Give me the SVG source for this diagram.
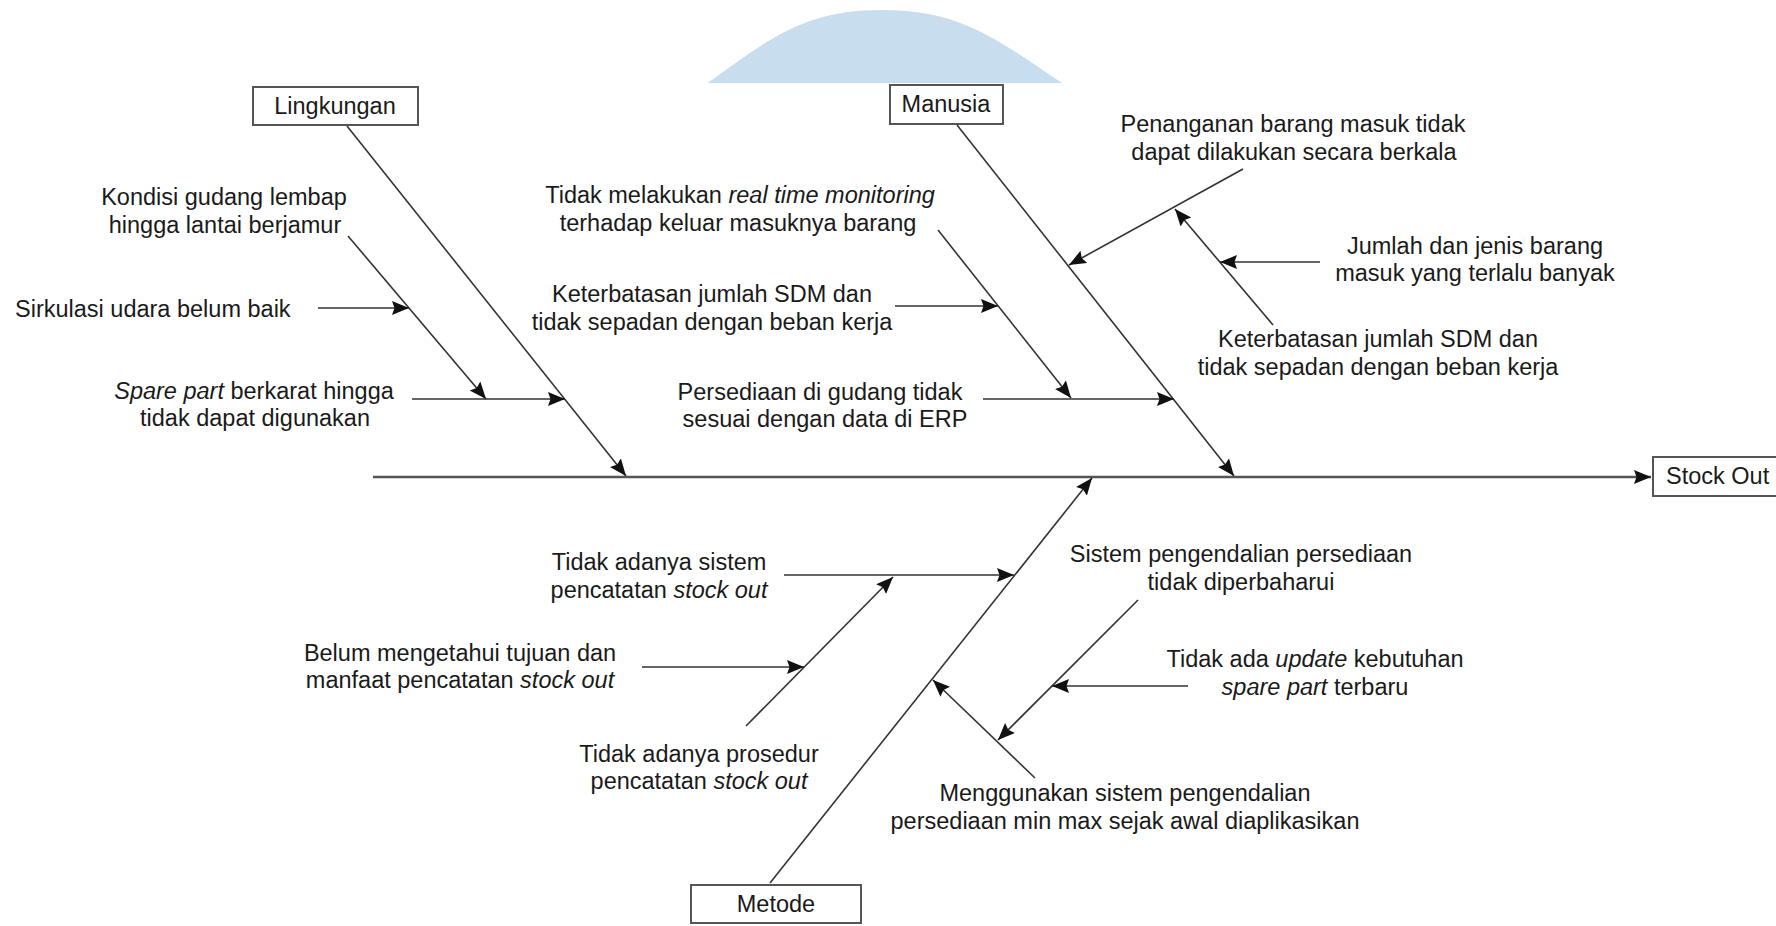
<svg xmlns="http://www.w3.org/2000/svg" width="1776" height="926" viewBox="0 0 1776 926">
<style>
.t{font-family:"Liberation Sans",Arial,sans-serif;font-size:23.5px;fill:#1a1a1a}
.m{text-anchor:middle}
.i{font-style:italic}
.box{fill:#fff;stroke:#555;stroke-width:2}
.c{stroke:#333;stroke-width:1.6;fill:none;marker-end:url(#ah)}
.main{stroke:#555;stroke-width:2.4;fill:none;marker-end:url(#ah)}
</style>
<defs>
<marker id="ah" markerUnits="userSpaceOnUse" markerWidth="18" markerHeight="15" refX="17" refY="7" orient="auto">
<path d="M0,0 L17,7 L0,14 L2.5,7 Z" fill="#111"/>
</marker>
</defs>
<rect width="1776" height="926" fill="#fff"/>
<path d="M708,83 C770,38 805,10 882,10 C960,10 995,38 1062,83 Z" fill="#c8dded"/>

<g id="connectors">
<path class="main" d="M373,477 H1651"/>
<path class="c" d="M347,126 L626,476"/>
<path class="c" d="M348,236 L486,399"/>
<path class="c" d="M318,308 L409,308"/>
<path class="c" d="M412,399 L565,399"/>
<path class="c" d="M957,125 L1234,476"/>
<path class="c" d="M938,230 L1071,398"/>
<path class="c" d="M895,306 L998,306"/>
<path class="c" d="M983,399 L1174,399"/>
<path class="c" d="M1243,169 L1069,265"/>
<path class="c" d="M1320,262 L1220,262"/>
<path class="c" d="M1273,325 L1175,209"/>
<path class="c" d="M770,883 L1092,478"/>
<path class="c" d="M784,575 L1014,575"/>
<path class="c" d="M746,726 L893,577"/>
<path class="c" d="M642,667 L804,667"/>
<path class="c" d="M1138,600 L998,740"/>
<path class="c" d="M1188,686 L1052,686"/>
<path class="c" d="M1035,778 L933,680"/>
</g>

<g id="lingkungan">
<rect class="box" x="253" y="87" width="165" height="38"/>
<text class="t m" x="335" y="114">Lingkungan</text>
</g>
<g id="manusia">
<rect class="box" x="890" y="85" width="113" height="39"/>
<text class="t m" x="946" y="112">Manusia</text>
</g>
<g id="metode">
<rect class="box" x="691" y="885" width="170" height="38"/>
<text class="t m" x="776" y="912">Metode</text>
</g>
<g id="stockout">
<rect class="box" x="1653" y="457" width="130" height="39"/>
<text class="t" x="1666" y="484">Stock Out</text>
</g>

<g id="kondisi">
<text class="t m" x="224" y="205">Kondisi gudang lembap</text>
<text class="t m" x="225" y="233">hingga lantai berjamur</text>
</g>
<g id="sirkulasi">
<text class="t" x="15" y="317">Sirkulasi udara belum baik</text>
</g>
<g id="sparepart">
<text class="t m" x="254" y="399"><tspan class="i">Spare part</tspan> berkarat hingga</text>
<text class="t m" x="255" y="426">tidak dapat digunakan</text>
</g>
<g id="monitoring">
<text class="t m" x="740" y="203">Tidak melakukan <tspan class="i">real time monitoring</tspan></text>
<text class="t m" x="738" y="231">terhadap keluar masuknya barang</text>
</g>
<g id="sdm1">
<text class="t m" x="712" y="302">Keterbatasan jumlah SDM dan</text>
<text class="t m" x="712" y="330">tidak sepadan dengan beban kerja</text>
</g>
<g id="persediaan">
<text class="t m" x="820" y="400">Persediaan di gudang tidak</text>
<text class="t m" x="825" y="427">sesuai dengan data di ERP</text>
</g>
<g id="penanganan">
<text class="t m" x="1293" y="132">Penanganan barang masuk tidak</text>
<text class="t m" x="1294" y="160">dapat dilakukan secara berkala</text>
</g>
<g id="jumlah">
<text class="t m" x="1475" y="254">Jumlah dan jenis barang</text>
<text class="t m" x="1475" y="281">masuk yang terlalu banyak</text>
</g>
<g id="sdm2">
<text class="t m" x="1378" y="347">Keterbatasan jumlah SDM dan</text>
<text class="t m" x="1378" y="375">tidak sepadan dengan beban kerja</text>
</g>
<g id="sistempencatatan">
<text class="t m" x="659" y="570">Tidak adanya sistem</text>
<text class="t m" x="659" y="598">pencatatan <tspan class="i">stock out</tspan></text>
</g>
<g id="belum">
<text class="t m" x="460" y="661">Belum mengetahui tujuan dan</text>
<text class="t m" x="460" y="688">manfaat pencatatan <tspan class="i">stock out</tspan></text>
</g>
<g id="prosedur">
<text class="t m" x="699" y="762">Tidak adanya prosedur</text>
<text class="t m" x="699" y="789">pencatatan <tspan class="i">stock out</tspan></text>
</g>
<g id="sistempengendalian">
<text class="t m" x="1241" y="562">Sistem pengendalian persediaan</text>
<text class="t m" x="1241" y="590">tidak diperbaharui</text>
</g>
<g id="update">
<text class="t m" x="1315" y="667">Tidak ada <tspan class="i">update</tspan> kebutuhan</text>
<text class="t m" x="1315" y="695"><tspan class="i">spare part</tspan> terbaru</text>
</g>
<g id="minmax">
<text class="t m" x="1125" y="801">Menggunakan sistem pengendalian</text>
<text class="t m" x="1125" y="829">persediaan min max sejak awal diaplikasikan</text>
</g>
</svg>
